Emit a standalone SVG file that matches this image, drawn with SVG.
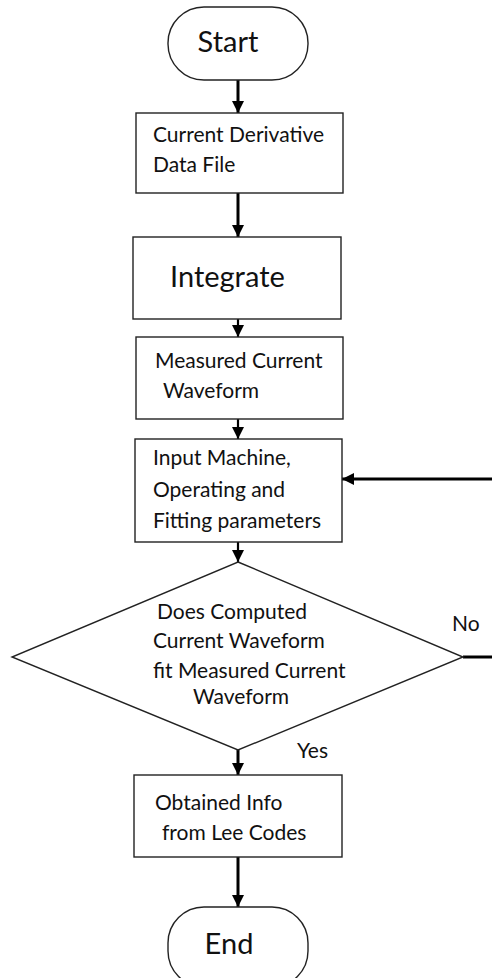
<svg xmlns="http://www.w3.org/2000/svg" width="492" height="978" viewBox="0 0 492 978">
<style>
.shape{fill:#fff;stroke:#222;stroke-width:1.4}
.t{font-family:Lato,"Open Sans",sans-serif;fill:#111;font-size:21px}
.big{font-size:29px}
.c{stroke:#000;stroke-width:3;fill:none}
.c2{stroke:#000;stroke-width:2.2;fill:none}
</style>
<defs>
<marker id="ah" markerUnits="userSpaceOnUse" markerWidth="12" markerHeight="12" viewBox="0 0 12 12" refX="12" refY="6" orient="auto">
<path d="M0,0 L12,6 L0,12 Z" fill="#000"/>
</marker>
</defs>
<rect width="492" height="978" fill="#fff"/>
<g id="connectors">
<line class="c" x1="238" y1="80" x2="238" y2="113" marker-end="url(#ah)"/>
<line class="c" x1="238" y1="193" x2="238" y2="237" marker-end="url(#ah)"/>
<line class="c2" x1="238" y1="319" x2="238" y2="337" marker-end="url(#ah)"/>
<line class="c2" x1="238" y1="419" x2="238" y2="439" marker-end="url(#ah)"/>
<line class="c2" x1="238" y1="542" x2="238" y2="562" marker-end="url(#ah)"/>
<polyline class="c" points="463,657 492,657"/>
<line class="c" x1="492" y1="479" x2="342" y2="479" marker-end="url(#ah)"/>
<line class="c" x1="238" y1="750" x2="238" y2="775" marker-end="url(#ah)"/>
<line class="c" x1="238" y1="857" x2="238" y2="907" marker-end="url(#ah)"/>
<text class="t" x="452" y="631">No</text>
<text class="t" x="297" y="758">Yes</text>
</g>
<g id="start">
<rect class="shape" x="168" y="7" width="140" height="73" rx="36" ry="36"/>
<text class="t big" x="228" y="52" text-anchor="middle">Start</text>
</g>
<g id="data-file">
<rect class="shape" x="136" y="113" width="207" height="80"/>
<text class="t" x="153" y="142">Current Derivative</text>
<text class="t" x="153" y="172">Data File</text>
</g>
<g id="integrate">
<rect class="shape" x="133" y="237" width="208" height="82"/>
<text class="t big" x="170" y="287">Integrate</text>
</g>
<g id="measured">
<rect class="shape" x="136" y="337" width="207" height="82"/>
<text class="t" x="155" y="368">Measured Current</text>
<text class="t" x="163" y="398">Waveform</text>
</g>
<g id="input">
<rect class="shape" x="135" y="439" width="207" height="103"/>
<text class="t" x="153" y="465">Input Machine,</text>
<text class="t" x="153" y="497">Operating and</text>
<text class="t" x="153" y="528">Fitting parameters</text>
</g>
<g id="decision">
<polygon class="shape" points="238,562 463,657 238,750 12,657"/>
<text class="t" x="157" y="619">Does Computed</text>
<text class="t" x="153" y="648">Current Waveform</text>
<text class="t" x="153" y="678">fit Measured Current</text>
<text class="t" x="193" y="704">Waveform</text>
</g>
<g id="obtained">
<rect class="shape" x="134" y="775" width="208" height="82"/>
<text class="t" x="155" y="810">Obtained Info</text>
<text class="t" x="162" y="840">from Lee Codes</text>
</g>
<g id="end">
<rect class="shape" x="168" y="907" width="140" height="80" rx="36" ry="36"/>
<text class="t big" x="229" y="954" text-anchor="middle">End</text>
</g>
</svg>
